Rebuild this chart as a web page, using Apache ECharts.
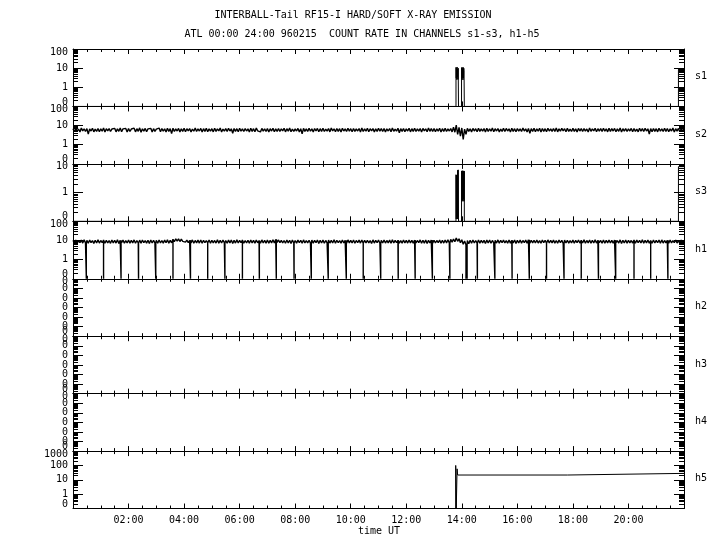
<!DOCTYPE html>
<html><head><meta charset="utf-8">
<script src="https://cdn.jsdelivr.net/npm/echarts@6/dist/echarts.min.js"></script>
<style>html,body{margin:0;padding:0;background:#fff}#c{width:720px;height:550px}</style>
</head><body><div id="c"></div>
<script>
// ---------------- DATA ----------------
const titleLine1 = 'INTERBALL-Tail RF15-I HARD/SOFT X-RAY EMISSION';
const titleLine2 = 'ATL 00:00 24:00 960215  COUNT RATE IN CHANNELS s1-s3, h1-h5';
const xAxisTitle = 'time UT';
const panelNames = ['s1', 's2', 's3', 'h1', 'h2', 'h3', 'h4', 'h5'];
const xTickHours = [2, 4, 6, 8, 10, 12, 14, 16, 18, 20];
const xTickLabels = ['02:00', '04:00', '06:00', '08:00', '10:00', '12:00', '14:00', '16:00', '18:00', '20:00'];
const yMinByPanel = [0.1, 0.1, 0.1, 0.1, 1e-6, 1e-6, 1e-6, 0.1];
const yMaxByPanel = [100, 100, 10, 100, 1, 1, 1, 1000];
const yLabelValues = [
  [0.1, 1, 10, 100], [0.1, 1, 10, 100], [0.1, 1, 10], [0.1, 1, 10, 100],
  [1e-6, 1e-5, 1e-4, 1e-3, 1e-2, 1e-1, 1], [1e-6, 1e-5, 1e-4, 1e-3, 1e-2, 1e-1, 1],
  [1e-6, 1e-5, 1e-4, 1e-3, 1e-2, 1e-1, 1], [0.1, 1, 10, 100, 1000]
];
const yLabelTexts = [
  ['0', '1', '10', '100'], ['0', '1', '10', '100'], ['0', '1', '10'], ['0', '1', '10', '100'],
  ['0', '0', '0', '0', '0', '0', '0'], ['0', '0', '0', '0', '0', '0', '0'],
  ['0', '0', '0', '0', '0', '0', '0'], ['0', '1', '10', '100', '1000']
];
const floorValue = 0.1;      // "0" counts are drawn at the bottom of the log panels
const sampleStepHours = 0.05; // s2 and h1 are sampled every 0.05 h from 00:00 to 22:00

const s2Values = [
  6.9,4.8,7.2,5.1,6.6,4.6,7.4,5.3,6.8,4.9,7.0,3.6,6.7,5.2,7.3,4.7,6.5,5.0,7.1,4.8,
  6.8,5.1,7.5,4.6,6.9,5.3,7.0,4.9,6.6,5.2,7.2,4.7,6.8,5.0,7.4,4.8,6.7,5.3,7.1,4.6,
  7.0,4.9,6.6,5.2,7.3,4.7,6.9,5.0,7.6,4.5,6.8,5.1,7.1,4.8,6.7,5.3,7.2,4.6,6.9,5.0,
  6.6,5.2,7.4,4.8,7.0,5.1,6.8,4.6,7.2,5.0,6.9,3.8,7.3,4.9,6.7,5.2,7.1,4.7,6.8,5.0,
  7.2,4.8,6.9,5.3,7.0,4.6,6.6,5.1,7.5,4.9,6.8,5.2,7.1,4.7,6.9,5.0,7.3,4.8,6.7,5.1,
  6.9,4.7,7.2,5.0,6.8,5.3,7.4,4.6,6.6,5.1,7.0,4.9,7.2,5.2,6.8,4.0,7.1,5.0,6.9,4.8,
  7.3,5.1,6.7,4.9,7.0,5.2,6.8,4.6,7.2,5.0,6.9,4.8,7.5,5.3,6.6,4.7,7.1,5.1,6.8,4.9,
  7.0,4.6,6.9,5.2,7.3,4.8,6.7,5.0,7.1,4.9,6.8,5.3,7.2,4.7,6.9,5.1,7.4,4.8,6.6,5.0,
  6.8,5.2,7.1,4.7,6.9,3.7,7.2,5.0,6.7,4.9,7.3,5.1,6.8,4.6,7.0,5.2,7.1,4.8,6.9,5.0,
  7.2,4.9,6.6,5.1,7.0,4.7,7.4,5.3,6.8,4.8,7.1,5.0,6.9,4.6,7.2,5.2,6.7,4.9,7.3,5.1,
  6.9,4.8,7.1,5.0,6.8,5.2,7.0,4.6,7.5,4.9,6.7,5.1,7.2,4.8,6.9,5.3,7.0,4.7,6.8,5.0,
  7.3,5.1,6.9,4.9,7.1,4.6,6.8,5.2,7.0,4.8,7.4,5.0,6.6,5.1,7.2,4.2,6.9,5.0,7.1,4.8,
  6.8,5.2,7.2,4.7,6.9,5.0,7.3,4.9,6.7,5.1,7.0,4.6,7.1,5.3,6.8,4.8,7.4,5.0,6.9,4.9,
  7.1,4.8,6.8,5.1,7.2,4.6,6.9,5.0,7.3,4.9,6.7,5.2,7.0,4.7,8.2,4.5,10.5,3.5,8.0,2.8,
  7.5,1.9,6.5,3.5,7.2,5.0,6.8,4.7,7.1,5.2,6.9,4.8,7.3,5.0,6.7,5.1,7.0,4.6,7.2,4.9,
  6.8,5.1,7.4,4.8,6.9,5.2,7.0,4.7,6.6,5.0,7.3,4.9,7.1,5.2,6.8,4.6,7.2,5.0,6.9,4.8,
  7.0,5.1,6.7,4.9,7.5,5.2,6.8,4.7,7.1,3.9,6.9,5.0,7.2,4.8,6.8,5.1,7.3,4.6,7.0,5.0,
  6.9,4.8,7.2,5.2,6.7,5.0,7.0,4.9,7.4,4.7,6.8,5.1,7.1,5.3,6.9,4.8,7.2,5.0,6.6,4.9,
  7.3,5.0,6.8,4.7,7.1,5.2,6.9,4.9,7.0,5.1,6.7,4.6,7.4,5.0,6.8,5.3,7.2,4.8,6.9,5.1,
  7.0,4.9,7.2,5.1,6.8,4.7,7.3,5.0,6.9,5.2,7.1,4.8,6.7,5.0,7.4,4.6,6.9,5.1,7.0,4.9,
  6.8,5.2,7.1,4.8,7.0,5.0,6.6,4.7,7.3,5.1,6.9,4.9,7.2,5.2,6.8,3.6,7.0,4.8,7.1,5.0,
  6.9,4.7,7.3,5.1,6.8,4.9,7.2,5.0,7.0,4.8,6.7,5.2,7.4,4.6,6.9,5.1,7.1,4.8,7.0,5.0,
  6.9
];

const h1Values = [
  10.2,7.4,10.6,7.1,9.9,7.6,10.4,7.3,10.8,7.5,10.1,7.2,10.5,7.7,9.8,7.0,10.3,7.4,10.7,7.3,
  10.0,7.6,10.5,7.2,10.2,7.4,9.9,7.1,10.6,7.5,10.3,7.3,10.8,7.0,10.1,7.6,10.4,7.2,9.8,7.4,
  10.5,7.3,10.1,7.5,10.7,7.1,10.0,7.4,10.4,7.2,10.6,7.6,9.9,7.3,10.3,7.0,10.5,7.4,10.2,7.5,
  10.1,7.2,10.6,7.4,10.0,7.3,10.4,7.6,10.8,7.1,10.2,7.5,11.5,8.6,12.3,9.2,12.0,8.8,11.6,8.9,
  11.2,8.2,10.5,7.6,10.3,7.4,10.7,7.2,10.0,7.5,10.4,7.3,10.6,7.1,10.2,7.6,9.9,7.4,10.5,7.2,
  10.3,7.5,10.0,7.3,10.8,7.1,10.2,7.4,10.5,7.6,9.9,7.2,10.4,7.5,10.6,7.0,10.1,7.3,10.7,7.4,
  10.2,7.6,10.5,7.2,10.0,7.4,10.3,7.1,10.6,7.5,10.1,7.3,10.4,7.6,9.8,7.2,10.7,7.4,10.2,7.3,
  10.5,7.1,10.1,7.5,10.8,7.3,11.4,8.0,10.6,7.6,10.2,7.4,10.0,7.2,10.5,7.5,10.3,7.0,10.6,7.4,
  10.0,7.3,10.4,7.6,10.2,7.1,10.7,7.4,9.9,7.5,10.3,7.2,10.5,7.3,10.1,7.6,10.6,7.0,10.2,7.4,
  10.4,7.2,10.0,7.5,10.6,7.3,10.2,7.4,10.8,7.1,10.3,7.6,9.9,7.3,10.5,7.4,10.1,7.2,10.7,7.5,
  10.2,7.4,10.5,7.1,10.0,7.6,10.4,7.3,10.6,7.2,10.1,7.5,10.3,7.4,9.8,7.0,10.7,7.3,10.2,7.6,
  10.5,7.2,10.1,7.4,10.6,7.3,10.0,7.5,10.4,7.1,10.8,7.4,10.2,7.6,10.3,7.2,9.9,7.3,10.5,7.5,
  10.1,7.3,10.6,7.5,10.2,7.1,10.4,7.4,10.0,7.6,10.7,7.2,10.3,7.3,10.5,7.0,10.1,7.5,10.4,7.2,
  10.3,7.4,10.0,7.6,10.5,7.2,10.2,7.3,10.6,7.5,10.8,7.4,11.5,8.0,12.0,8.5,13.5,9.0,12.2,7.6,
  11.0,6.3,9.5,6.0,9.8,6.8,10.2,7.1,10.5,7.4,10.0,7.3,10.6,7.2,10.3,7.5,10.1,7.0,10.4,7.4,
  10.6,7.2,10.0,7.5,10.3,7.3,10.7,7.1,10.2,7.6,10.4,7.4,9.9,7.2,10.5,7.3,10.1,7.5,10.6,7.0,
  10.2,7.4,10.5,7.3,10.0,7.6,10.4,7.2,10.8,7.1,10.3,7.5,10.1,7.4,10.6,7.3,9.9,7.2,10.5,7.6,
  10.3,7.1,10.7,7.4,10.1,7.5,10.4,7.3,10.0,7.2,10.6,7.6,10.2,7.0,10.5,7.4,10.3,7.3,9.8,7.5,
  10.4,7.2,10.1,7.6,10.6,7.3,10.2,7.4,10.8,7.1,10.0,7.5,10.5,7.2,10.3,7.4,10.7,7.3,10.1,7.6,
  10.0,7.3,10.5,7.1,10.2,7.5,10.6,7.4,10.1,7.2,10.4,7.6,9.9,7.3,10.7,7.0,10.2,7.4,10.5,7.2,
  10.3,7.5,10.0,7.3,10.6,7.2,10.4,7.6,10.1,7.4,10.8,7.1,10.2,7.5,10.5,7.3,10.0,7.2,10.6,7.4,
  10.2,7.6,10.4,7.1,10.7,7.3,10.0,7.5,10.3,7.2,10.5,7.4,9.9,7.6,10.6,7.3,10.1,7.0,10.4,7.5,
  10.2
];
// times (hours) of the short drop-outs of h1 to zero
const h1DropTimes = [0.48,1.10,1.73,2.36,2.98,3.60,4.23,4.85,5.47,6.10,6.71,7.32,7.96,8.58,9.19,9.84,
  10.45,11.08,11.71,12.32,12.94,13.57,14.15,14.19,14.56,15.19,15.81,16.43,17.05,17.68,18.30,18.92,
  19.54,20.20,20.80,21.42];

const s1Times = [0,13.79,13.79,13.80,13.81,13.82,13.83,13.84,13.85,13.86,13.87,13.88,13.88,
  13.99,13.99,14.00,14.01,14.02,14.03,14.04,14.05,14.06,14.07,14.08,14.09,14.09,21.80,21.80,22.0];
const s1Values = [0.1,0.1,11,3,10,2.5,11.5,3.5,9,2.6,10,8,0.1,
  0.1,10.5,2.8,11,3.2,9.5,2.4,11,3,10,7.5,9,0.1,0.1,9,9];

const s3Times = s1Times;
const s3Values = [0.1,0.1,4.2,0.12,4.0,0.15,4.1,0.12,6.0,0.14,6.2,5.5,0.1,
  0.1,5.7,0.5,5.6,0.55,5.8,0.5,5.5,0.6,5.7,0.5,5.6,0.1,0.1,8,8];

const h5Times = [0,13.78,13.78,13.80,13.83,13.83,13.85,17.80,17.80,22.0];
const h5Values = [0.1,0.1,100,0.1,0.1,58,21.5,21.5,28,28];

// ---------------- BUILD ----------------
const pairs = (ts, vs) => ts.map((t, i) => [t, vs[i]]);
const timeOf = i => Math.round(i * sampleStepHours * 100) / 100;
const sampled = vs => vs.map((v, i) => [timeOf(i), v]);
function withDrops(vs, drops) {
  const out = [];
  let d = 0;
  vs.forEach((v, i) => {
    const t = timeOf(i);
    while (d < drops.length && drops[d] < t) {
      const prev = i > 0 ? vs[i - 1] : v;
      out.push([drops[d], prev], [drops[d], floorValue], [drops[d], prev]);
      d++;
    }
    out.push([t, v]);
  });
  return out;
}
const panelData = [
  pairs(s1Times, s1Values),
  sampled(s2Values),
  pairs(s3Times, s3Values),
  withDrops(h1Values, h1DropTimes),
  null, null, null,
  pairs(h5Times, h5Values)
];

const FONT = 'DejaVu Sans Mono';
const G_TOP = 49, G_H = 57.44, G_LEFT = 73, G_RIGHT = 36;
const grids = [], xAxes = [], yAxes = [], series = [], graphics = [];

function minorValues(min, max) {
  const out = [];
  for (let e = Math.round(Math.log10(min)); e < Math.round(Math.log10(max)); e++) {
    for (let k = 2; k <= 9; k++) out.push(k * Math.pow(10, e));
  }
  return out;
}

panelNames.forEach((name, i) => {
  const isLast = i === panelNames.length - 1;
  grids.push({ left: G_LEFT, right: G_RIGHT, top: G_TOP + i * G_H, height: G_H });
  const xBase = {
    type: 'value', gridIndex: i, min: 0, max: 22, interval: 2,
    axisLine: { show: true, onZero: false, lineStyle: { color: '#000', width: 1 } },
    axisTick: { show: true, inside: true, length: 5, lineStyle: { color: '#000', width: 1 } },
    minorTick: { show: true, splitNumber: 4, length: 3, lineStyle: { color: '#000', width: 1 } },
    splitLine: { show: false }, minorSplitLine: { show: false }
  };
  xAxes.push(Object.assign({}, xBase, {
    position: 'bottom',
    axisLabel: {
      show: isLast, margin: 7, fontFamily: FONT, fontSize: 10, color: '#000',
      formatter: v => { const k = xTickHours.indexOf(Math.round(v)); return k >= 0 && Math.abs(v - xTickHours[k]) < 1e-6 ? xTickLabels[k] : ''; }
    }
  }));
  xAxes.push(Object.assign({}, xBase, { position: 'top', axisLabel: { show: false } }));

  const vals = yLabelValues[i], texts = yLabelTexts[i];
  const evenVals = vals.filter((_, k) => k % 2 === 0);
  const oddVals = vals.filter((_, k) => k % 2 === 1);
  const mn = yMinByPanel[i], mx = yMaxByPanel[i];
  const labelFor = v => {
    for (let k = 0; k < vals.length; k++) {
      if (Math.abs(Math.log10(v) - Math.log10(vals[k])) < 1e-4) {
        if (k === vals.length - 1) return '{t|' + texts[k] + '}';
        if (k === 0) return '{b|' + texts[k] + '}';
        return '{m|' + texts[k] + '}';
      }
    }
    return '';
  };
  const richBase = { fontFamily: FONT, fontSize: 10, color: '#000' };
  const labelCfg = (show, custom) => ({
    show: show, customValues: custom, showMinLabel: true, showMaxLabel: true, hideOverlap: false,
    margin: 5, fontFamily: FONT, fontSize: 10, color: '#000',
    formatter: labelFor,
    rich: {
      t: Object.assign({ padding: [6, 0, 0, 0] }, richBase),
      b: Object.assign({ padding: [0, 0, 9, 0] }, richBase),
      m: Object.assign({}, richBase)
    }
  });
  const major = (pos, showLabel) => ({
    type: 'log', logBase: 10, gridIndex: i, position: pos, min: mn, max: mx,
    axisLine: { show: true, onZero: false, lineStyle: { color: '#000', width: 1 } },
    axisTick: { show: true, inside: true, length: 10, customValues: vals, lineStyle: { color: '#000', width: 1 } },
    axisLabel: labelCfg(showLabel, evenVals),
    splitLine: { show: false }, minorTick: { show: false }
  });
  const minor = (pos, showLabel) => ({
    type: 'log', logBase: 10, gridIndex: i, position: pos, min: mn, max: mx,
    axisLine: { show: false, onZero: false },
    axisTick: { show: true, inside: true, length: 5, customValues: minorValues(mn, mx), lineStyle: { color: '#000', width: 1 } },
    axisLabel: labelCfg(showLabel && oddVals.length > 0, oddVals.length ? oddVals : [mn]),
    splitLine: { show: false }, minorTick: { show: false }
  });
  yAxes.push(major('left', true), minor('left', true), major('right', false), minor('right', false));

  if (panelData[i]) {
    series.push({
      type: 'line', xAxisIndex: 2 * i, yAxisIndex: 4 * i, data: panelData[i],
      showSymbol: false, symbol: 'none', silent: true, animation: false,
      lineStyle: { color: '#000', width: (i === 1 || i === 3) ? 1.4 : 1 }
    });
  }
  graphics.push({
    type: 'text', left: 695, top: G_TOP + i * G_H + G_H / 2 - 6,
    style: { text: name, fontFamily: FONT, fontSize: 10, fill: '#000' }
  });
});

graphics.push(
  { type: 'text', x: 353, y: 15, style: { text: titleLine1, fontFamily: FONT, fontSize: 10, fill: '#000', align: 'center', verticalAlign: 'middle' } },
  { type: 'text', x: 362, y: 34, style: { text: titleLine2, fontFamily: FONT, fontSize: 10, fill: '#000', align: 'center', verticalAlign: 'middle' } },
  { type: 'text', x: 379, y: 531, style: { text: xAxisTitle, fontFamily: FONT, fontSize: 10, fill: '#000', align: 'center', verticalAlign: 'middle' } }
);

const chart = echarts.init(document.getElementById('c'));
chart.setOption({
  animation: false,
  backgroundColor: '#fff',
  grid: grids, xAxis: xAxes, yAxis: yAxes, series: series, graphic: graphics
});
</script></body></html>
